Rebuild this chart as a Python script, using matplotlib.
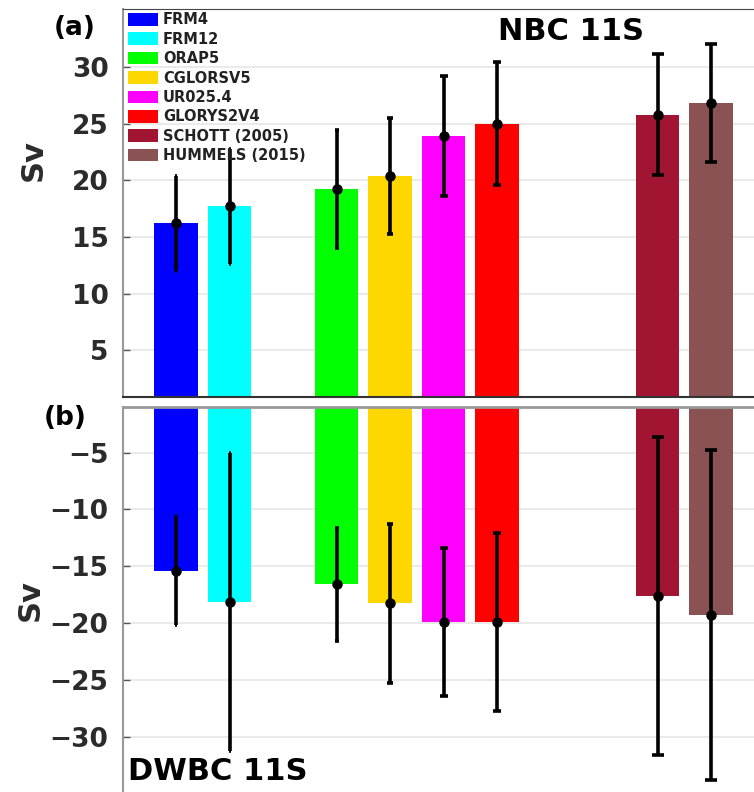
import numpy as np
import matplotlib.pyplot as plt
from matplotlib.patches import Patch

models = ["FRM4", "FRM12", "ORAP5", "CGLORSV5", "UR025.4", "GLORYS2V4",
          "SCHOTT (2005)", "HUMMELS (2015)"]
positions = [1, 2, 4, 5, 6, 7, 10, 11]
colors = ["#0000ff", "#00ffff", "#00ff00", "#ffd700", "#ff00ff", "#ff0000",
          "#a11432", "#8a5252"]

# NBC 11S transport (Sv) and spread
nbc_mean = [16.2, 17.7, 19.2, 20.4, 23.9, 25.0, 25.8, 26.8]
nbc_err = [4.2, 5.1, 5.2, 5.1, 5.3, 5.4, 5.3, 5.2]

# DWBC 11S transport (Sv) and spread
dwbc_mean = [-15.4, -18.1, -16.6, -18.25, -19.9, -19.9, -17.6, -19.25]
dwbc_err = [4.8, 13.1, 5.0, 7.0, 6.5, 7.8, 14.0, 14.5]

capsizes = [0.5, 0.5, 1.5, 2.5, 3, 3, 4, 4]

plt.rcParams['font.family'] = 'DejaVu Sans'

fig = plt.figure(figsize=(7.54, 7.92), dpi=100)
W, H = 754, 792
x0 = 122.5
ax_w = 642 / W
ax1 = fig.add_axes([x0 / W, 1 - 397 / H, ax_w, 388 / H])
ax2 = fig.add_axes([x0 / W, 1 - 793.75 / H, ax_w, 386.75 / H])


def draw(ax, means, errs):
    ax.bar(positions, means, width=0.81, color=colors, zorder=2)
    for p, m, e, c in zip(positions, means, errs, capsizes):
        ax.errorbar(p, m, yerr=e, fmt='o', color='black', ms=6.5,
                    elinewidth=2.6, capsize=c, capthick=2.6, zorder=4)
    ax.set_xlim(0, 12)
    ax.set_xticks([])
    ax.grid(axis='y', color='#e6e6e6', linewidth=1.2, zorder=0)
    ax.set_axisbelow(True)
    ax.tick_params(axis='y', direction='in', length=5, width=1,
                   labelsize=19, labelcolor='#2b2b2b', color='#555555', pad=10)
    ax.spines['right'].set_visible(False)
    ax.spines['left'].set_color('#999999')
    ax.spines['left'].set_linewidth(1.5)


draw(ax1, nbc_mean, nbc_err)
ax1.set_ylim(0.9, 35.1)
ax1.set_yticks([5, 10, 15, 20, 25, 30])
for lab in ax1.get_yticklabels():
    lab.set_fontweight('bold')
ax1.spines['top'].set_color('#444444')
ax1.spines['bottom'].set_color('#333333')
ax1.spines['bottom'].set_linewidth(1.5)

draw(ax2, dwbc_mean, dwbc_err)
ax2.set_ylim(-35, -1)
ax2.set_yticks([-30, -25, -20, -15, -10, -5])
ax2.set_yticklabels(["\u221230", "\u221225", "\u221220", "\u221215", "\u221210", "\u22125"])
for lab in ax2.get_yticklabels():
    lab.set_fontweight('bold')
ax2.spines['top'].set_color('#999999')
ax2.spines['top'].set_linewidth(2)
ax2.spines['bottom'].set_visible(False)

handles = [Patch(facecolor=c, edgecolor='none') for c in colors]
leg = ax1.legend(handles, models, loc='upper left', bbox_to_anchor=(0.006, 0.995),
                 borderaxespad=0, borderpad=0.1, frameon=False,
                 prop={'size': 10.5, 'weight': 'bold'},
                 handlelength=2.1, handleheight=0.95, labelspacing=0.3,
                 handletextpad=0.3)
for t in leg.get_texts():
    t.set_color('#222222')

fig.text(75 / W, 1 - 28 / H, "(a)", fontsize=19, fontweight='bold',
         ha='center', va='center')
fig.text(65 / W, 1 - 418 / H, "(b)", fontsize=19, fontweight='bold',
         ha='center', va='center')
fig.text(33 / W, 1 - 160 / H, "Sv", fontsize=22, fontweight='bold',
         rotation=90, ha='center', va='center', color='#2b2b2b')
fig.text(30 / W, 1 - 600 / H, "Sv", fontsize=22, fontweight='bold',
         rotation=90, ha='center', va='center', color='#2b2b2b')
fig.text(571 / W, 1 - 31 / H, "NBC 11S", fontsize=22, fontweight='bold',
         ha='center', va='center')
fig.text(128 / W, 1 - 772 / H, "DWBC 11S", fontsize=22, fontweight='bold',
         ha='left', va='center')

fig.savefig("out.png", dpi=100)
